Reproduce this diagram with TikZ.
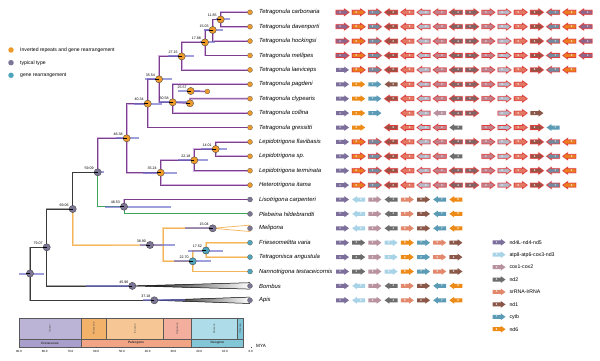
\documentclass[tikz,border=0pt]{standalone}
\usepackage{fontspec}
\setmainfont{Liberation Sans}
\definecolor{g1}{HTML}{7D6F9C}
\definecolor{g2}{HTML}{A9D4E8}
\definecolor{g3}{HTML}{B8929F}
\definecolor{g4}{HTML}{6D6D6D}
\definecolor{g5}{HTML}{E2886C}
\definecolor{g6}{HTML}{8A5748}
\definecolor{g7}{HTML}{5B9BB5}
\definecolor{g8}{HTML}{EE8B17}
\definecolor{hl}{HTML}{E03C3C}
\definecolor{brP}{HTML}{7B3F8E}
\definecolor{brPl}{HTML}{D2B0E0}
\definecolor{brO}{HTML}{F4B55A}
\definecolor{brOl}{HTML}{FAD9A8}
\definecolor{brG}{HTML}{3DA55D}
\definecolor{brK}{HTML}{3A3A3A}
\definecolor{ndO}{HTML}{EE9A2A}
\definecolor{ndP}{HTML}{7C7596}
\definecolor{ndT}{HTML}{4FA6BC}
\definecolor{barB}{HTML}{6C6CC8}
\definecolor{tsUp}{HTML}{BBB4D6}
\definecolor{tsCr}{HTML}{A99FCC}
\definecolor{tsPa}{HTML}{F2B26A}
\definecolor{tsEo}{HTML}{F7C695}
\definecolor{tsOl}{HTML}{F4AE9E}
\definecolor{tsPg}{HTML}{F2A585}
\definecolor{tsMi}{HTML}{AEDCE8}
\definecolor{tsPl}{HTML}{7FC5D8}
\definecolor{tsNg}{HTML}{82C6D7}
\newcommand{\garxy}[5]{%
  \begin{scope}[shift={({#1},{#2})},xscale=#3]
    \ifnum#5=1
      \path[fill=g#4!82!hl,draw=hl,line width=0.6pt,line join=round,preaction={draw=hl!25,line width=1.5pt}] (-6.5,-2.0) -- (1.8,-2.0) -- (1.8,-3.4) -- (6.5,0) -- (1.8,3.4) -- (1.8,2.0) -- (-6.5,2.0) -- cycle;
    \else
      \path[fill=g#4] (-6.5,-2.0) -- (1.8,-2.0) -- (1.8,-3.4) -- (6.5,0) -- (1.8,3.4) -- (1.8,2.0) -- (-6.5,2.0) -- cycle;
    \fi
    \node[gnum] at (-2.3,0) {#4};
  \end{scope}}
\newcommand{\gar}[5]{\garxy{342.5+(#1-1)*16.2}{12.3+(#2-1)*14.4}{#3}{#4}{#5}}
\begin{document}
\begin{tikzpicture}[x=1pt,y=-1pt,
  gnum/.style={text=white,font=\fontsize{2.8}{3}\selectfont\bfseries,inner sep=0pt},
  pbr/.style={draw=brP,line width=0.7pt,preaction={draw=brPl,line width=1.9pt}},
  obr/.style={draw=brO,line width=0.8pt,preaction={draw=brOl,line width=1.9pt}},
  gbr/.style={draw=brG,line width=0.9pt},
  kbr/.style={draw=brK,line width=0.8pt,preaction={draw=black!35,line width=1.5pt}},
  hpd/.style={draw=barB,line width=2pt,opacity=0.65},
  nd/.style={circle,draw=black!75,line width=0.35pt,minimum size=7.2pt,inner sep=0pt},
  tip/.style={circle,draw=black!60,line width=0.3pt,minimum size=5pt,inner sep=0pt},
  age/.style={font=\fontsize{3.6}{4}\selectfont,inner sep=0pt,anchor=south east},
  sp/.style={font=\fontsize{5.9}{6}\selectfont\itshape,inner sep=0pt,anchor=west},
  lg/.style={font=\fontsize{5.1}{6}\selectfont,inner sep=0pt,anchor=west},
  ts/.style={draw=black!65,line width=0.4pt}]
\useasboundingbox (0,0) rectangle (600,361);
\fill[white] (0,0) rectangle (600,361);

% ---------- tree coordinates ----------
\coordinate (R) at (30,273.5);
\coordinate (N76) at (46.7,247.3);
\coordinate (N66) at (72.7,209);
\coordinate (N59) at (97.7,172.3);
\coordinate (N49) at (126.7,138.3);
\coordinate (N40) at (147.7,103.7);
\coordinate (N35a) at (159,79.3);
\coordinate (N27) at (181.7,56.4);
\coordinate (N17) at (205,42.4);
\coordinate (N15) at (212.7,30.0);
\coordinate (N11) at (220.7,19.5);
\coordinate (N30) at (172.7,102.3);
\coordinate (C7) at (190,103.3);
\coordinate (N25) at (190.7,91);
\coordinate (X25) at (207.3,91.5);
\coordinate (N35) at (160.7,172.7);
\coordinate (N22) at (194.3,160.3);
\coordinate (N14) at (215.7,149.1);
\coordinate (N48) at (124,206.7);
\coordinate (N34) at (150,245);
\coordinate (J34) at (163.3,245);
\coordinate (N20) at (212.7,228.3);
\coordinate (N17b) at (206,250.5);
\coordinate (N22b) at (192.7,261.3);
\coordinate (NB) at (132.3,285.9);
\coordinate (NA) at (154.3,300.3);
\foreach \i in {1,...,21} {\coordinate (t\i) at (250,{12.3+(\i-1)*14.4});}

% ---------- branches ----------
\draw[kbr] (R) |- (N76);
\draw[kbr] (R) |- (NA);
\draw[kbr] (N76) |- (N66);
\draw[kbr] (N76) |- (NB);
\draw[kbr] (N66) |- (N59);
\draw[obr] (N66) |- (N34) -- (J34);
\draw[obr] (J34) |- (N20);
\draw[obr] (J34) |- (N22b);
\draw[obr] (N22b) |- (N17b);
\draw[obr] (N22b) |- (t19);
\draw[obr] (N17b) |- (t17);
\draw[obr] (N17b) |- (t18);
\draw[gbr] (N59) |- (N48);
\draw[gbr] (N48) |- (t15);
\draw[pbr] (N48) |- (t14);
\draw[pbr] (N59) |- (N49);
\draw[pbr] (N49) |- (N40);
\draw[pbr] (N49) |- (N35);
\draw[pbr] (N40) |- (N35a);
\draw[pbr] (N40) |- (t9);
\draw[pbr] (N35a) |- (N27);
\draw[pbr] (N35a) |- (N30);
\draw[pbr] (N27) |- (N17);
\draw[pbr] (N27) |- (t5);
\draw[pbr] (N17) |- (N15);
\draw[pbr] (N17) |- (t4);
\draw[pbr] (N15) |- (N11);
\draw[pbr] (N15) |- (t3);
\draw[pbr] (N11) |- (t1);
\draw[pbr] (N11) |- (t2);
\draw[pbr] (N30) |- (t6);
\draw[pbr] (N30) |- (t8);
\draw[pbr] (N30) -- (C7) |- (t7);
\draw[pbr] (N25) -- (X25);
\draw[pbr] (N35) |- (N22);
\draw[pbr] (N35) |- (t13);
\draw[pbr] (N22) |- (N14);
\draw[pbr] (N22) |- (t12);
\draw[pbr] (N14) |- (t10);
\draw[pbr] (N14) |- (t11);
% collapsed clades
\draw[brO,line width=0.7pt,fill=white] (N20) -- ([yshift=-3.2pt]t16) -- ([yshift=3.2pt]t16) -- cycle;
\shade[left color=black,right color=white] (NB) -- ([yshift=-3.2pt]t20) -- ([yshift=3.2pt]t20) -- cycle;
\draw[black,line width=0.5pt] ([yshift=-3.2pt]t20) -- (NB) -- ([yshift=3.2pt]t20);
\shade[left color=black,right color=white] (NA) -- ([yshift=-3.2pt]t21) -- ([yshift=3.2pt]t21) -- cycle;
\draw[black,line width=0.5pt] ([yshift=-3.2pt]t21) -- (NA) -- ([yshift=3.2pt]t21);

% ---------- HPD bars ----------
\draw[hpd] (19,273.5) -- (44,273.5);
\draw[hpd] (96,172.3) -- (104,172.3);
\draw[hpd] (116,138.3) -- (139.3,138.3);
\draw[hpd] (134,103.7) -- (161.7,103.7);
\draw[hpd] (145,79.3) -- (171.7,79.3);
\draw[hpd] (168,56.4) -- (194.3,56.4);
\draw[hpd] (200,42.4) -- (215,42.4);
\draw[hpd] (204,30) -- (222.7,30);
\draw[hpd] (216,19.5) -- (230,19.5);
\draw[hpd] (159,102.3) -- (190,102.3);
\draw[hpd] (178,91) -- (200,91);
\draw[hpd] (143.3,172.7) -- (176.7,172.7);
\draw[hpd] (178.3,160.3) -- (208.3,160.3);
\draw[hpd] (201,149.1) -- (227.3,149.1);
\draw[hpd] (105,206.7) -- (170.7,206.7);
\draw[hpd] (140,245) -- (175,245);
\draw[hpd] (185,228.3) -- (212.7,228.3);
\draw[hpd] (187.7,250.5) -- (223.3,250.5);
\draw[hpd] (174,261.3) -- (210.7,261.3);
\draw[hpd] (86,285.9) -- (134,285.9);
\draw[hpd] (143,300.3) -- (185,300.3);

% ---------- node circles ----------
\foreach \n/\c in {R/ndP,N76/ndP,N66/ndP,N59/ndP,N49/ndO,N40/ndO,N35a/ndO,N27/ndO,N17/ndO,N15/ndO,N11/ndO,N30/ndO,C7/ndO,N25/ndO,N35/ndO,N22/ndO,N14/ndO,N48/ndP,N34/ndP,N20/ndP,N17b/ndT,N22b/ndT,NB/ndP,NA/ndP} {
  \node[nd,fill=\c] (c\n) at (\n) {};
  \draw[black,line width=0.6pt] (c\n.center) -- (c\n.west);
}
\node[tip,fill=ndO] (cX25) at (X25) {};
\foreach \i/\c in {1/ndO,2/ndO,3/ndO,4/ndO,5/ndO,6/ndO,7/ndO,8/ndO,9/ndO,10/ndO,11/ndO,12/ndO,13/ndO,14/ndP,15/ndP,16/ndP,17/ndT,18/ndT,19/ndT,20/ndP,21/ndP} {
  \node[tip,fill=\c] (ct\i) at (t\i) {};
}

% ---------- node ages ----------
\foreach \n/\a in {N76/79.07,N66/69.06,N59/59.09,N49/48.38,N40/40.34,N35a/35.54,N27/27.15,N17/17.88,N15/15.03,N11/11.85,N25/25.57,N30/30.58,N35/35.24,N22/22.18,N14/14.01,N48/48.53,N34/38.90,N20/15.04,N17b/17.52,N22b/22.70,NB/45.96,NA/37.18} {
  \node[age] (a\n) at ([xshift=-3.8pt,yshift=2.6pt]\n) {\a};
}

% ---------- species ----------
\foreach \i/\s in {1/Tetragonula carbonaria,2/Tetragonula davenporti,3/Tetragonula hockingsi,4/Tetragonula mellipes,5/Tetragonula laeviceps,6/Tetragonula pagdeni,7/Tetragonula clypearis,8/Tetragonula collina,9/Tetragonula gressitti,10/Lepidotrigona flavibasis,11/Lepidotrigona sp.,12/Lepidotrigona terminata,13/Heterotrigona itama,14/Lisotrigona carpenteri,15/Plebeina hildebrandti,16/Melipona,17/Frieseomelitta varia,18/Tetragonisca angustula,19/Nannotrigona testaceicornis,20/Bombus,21/Apis} {
  \node[sp] (s\i) at (259,{12.3+(\i-1)*14.4}) {\s};
}

% ---------- legend (states) ----------
\node[circle,fill=ndO,minimum size=5.5pt,inner sep=0pt] (l1) at (11,50) {};
\node[circle,fill=ndP,minimum size=5.5pt,inner sep=0pt] (l2) at (11,62.7) {};
\node[circle,fill=ndT,minimum size=5.5pt,inner sep=0pt] (l3) at (11,75.3) {};
\node[lg] (lt1) at (20,50) {Inverted repeats and gene rearrangement};
\node[lg] (lt2) at (20,62.7) {typical type};
\node[lg] (lt3) at (20,75.3) {gene rearrangement};

% ---------- gene arrows ----------
\def\fullpat{1/1/1/1,2/1/8/1,3/1/7/1,4/-1/6/1,5/-1/5/1,6/-1/2/1,7/-1/3/1,8/-1/4/1,9/1/4/1,10/1/3/1,11/1/2/1,12/1/5/1,13/1/6/1,14/-1/7/1,15/-1/8/1,16/-1/1/1}
\def\lpat{1/1/1/0,2/1/8/1,3/1/7/1,4/-1/6/1,5/-1/5/1,6/-1/2/1,7/-1/3/1,8/-1/4/1,9/1/4/1,10/1/3/1,11/1/2/1,12/1/5/1,13/1/6/1,14/-1/7/1,15/-1/8/1}
\def\typpat{1/1/1/0,2/-1/2/0,3/1/3/0,4/-1/4/0,5/1/5/0,6/1/6/0,7/-1/7/0,8/-1/8/0}
\def\rearpat{1/1/1/0,2/1/4/0,3/1/3/0,4/1/2/0,5/1/8/0,6/1/7/0,7/1/5/0,8/1/6/0}
\foreach \r in {1,2,3,4} {\foreach \c/\d/\n/\h in \fullpat {\gar{\c}{\r}{\d}{\n}{\h}}}
\foreach \r in {5,10,12,13} {\foreach \c/\d/\n/\h in \lpat {\gar{\c}{\r}{\d}{\n}{\h}}}
\foreach \c/\d/\n/\h in {1/1/1/0,2/1/8/0,3/1/7/0,4/-1/6/0,5/-1/5/1,6/-1/2/1,7/-1/3/1,8/-1/4/1,9/1/4/1,10/1/3/1,11/1/2/1,12/1/5/1} {\gar{\c}{6}{\d}{\n}{\h}}
\foreach \c/\d/\n/\h in {1/1/1/0,2/1/8/0,3/1/7/0,4/-1/6/1,5/-1/5/1,6/-1/2/1,7/-1/3/1,8/-1/4/1,9/1/4/1,10/1/3/1,11/1/2/1,12/1/5/1} {\gar{\c}{7}{\d}{\n}{\h}}
\foreach \c/\d/\n/\h in {1/1/1/0,2/1/8/0,3/1/7/0,5/-1/5/1,6/-1/2/1,7/-1/3/0,8/-1/4/1,9/1/4/1,11/1/2/1,12/1/5/1,13/1/6/0} {\gar{\c}{8}{\d}{\n}{\h}}
\foreach \c/\d/\n/\h in {1/1/1/0,2/1/8/0,4/-1/6/1,5/-1/5/1,6/-1/2/1,7/-1/3/1,8/-1/4/0,10/1/3/1,11/1/2/1,12/1/5/1,13/1/6/1,14/-1/7/0} {\gar{\c}{9}{\d}{\n}{\h}}
\foreach \c/\d/\n/\h in {1/1/1/0,2/1/8/1,3/1/7/1,4/-1/6/1,5/-1/5/1,6/-1/2/1,7/-1/3/1,8/-1/4/0,10/1/3/1,11/1/2/1,12/1/5/1,13/1/6/1,14/-1/7/1,15/-1/8/1} {\gar{\c}{11}{\d}{\n}{\h}}
\foreach \r in {14,15,16,20,21} {\foreach \c/\d/\n/\h in \typpat {\gar{\c}{\r}{\d}{\n}{\h}}}
\foreach \r in {17,18,19} {\foreach \c/\d/\n/\h in \rearpat {\gar{\c}{\r}{\d}{\n}{\h}}}

% ---------- gene legend ----------
\foreach \k/\t in {1/nd4L-nd4-nd5,2/atp8-atp6-cox3-nd3,3/cox1-cox2,4/nd2,5/srRNA-lrRNA,6/nd1,7/cytb,8/nd6} {
  \garxy{499}{242.3+(\k-1)*12.42}{1}{\k}{0}
  \node[lg,font=\fontsize{5.2}{6}\selectfont] (gl\k) at (509.3,{242.3+(\k-1)*12.42}) {\t};
}

% ---------- time scale ----------
\fill[tsUp] (19,318.3) rectangle (80.8,339);
\fill[tsPa] (80.8,318.3) rectangle (106.5,339);
\fill[tsEo] (106.5,318.3) rectangle (163.4,339);
\fill[tsOl] (163.4,318.3) rectangle (191.5,339);
\fill[tsMi] (191.5,318.3) rectangle (237,339);
\fill[tsPl] (237,318.3) rectangle (243.6,339);
\fill[tsCr] (19,339) rectangle (80.8,346.7);
\fill[tsPg] (80.8,339) rectangle (191.5,346.7);
\fill[tsNg] (191.5,339) rectangle (243.6,346.7);
\draw[ts] (19,318.3) rectangle (243.6,346.7);
\draw[ts] (19,339) -- (243.6,339);
\foreach \x in {80.8,191.5} {\draw[ts] (\x,318.3) -- (\x,346.7);}
\foreach \x in {106.5,163.4,237} {\draw[ts] (\x,318.3) -- (\x,339);}
\foreach \x/\t in {49.9/Upper,93.6/Paleocene,135/Eocene,177.5/Oligocene,214.2/Miocene,240.3/Pliocene} {
  \node[rotate=90,font=\fontsize{2.6}{3}\selectfont,inner sep=0pt,text=black!70] at (\x,328.6) {\t};
}
\foreach \x/\t in {49.9/Cretaceous,136.1/Paleogene,217.5/Neogene} {
  \node[font=\fontsize{3.2}{3.5}\selectfont\bfseries,inner sep=0pt,text=black!80] at (\x,342.9) {\t};
}
\foreach \t in {0,10,...,90} {
  \draw[black!70,line width=0.3pt] ({250.7-2.575*\t},346.7) -- ({250.7-2.575*\t},348.3);
  \node[font=\fontsize{3}{3.5}\selectfont,inner sep=0pt] at ({250.7-2.575*\t},351.2) {\t.0};
}
\node[font=\fontsize{4.6}{5}\selectfont,inner sep=0pt,anchor=west] (mya) at (256,346.3) {MYA};
\end{tikzpicture}
\end{document}
